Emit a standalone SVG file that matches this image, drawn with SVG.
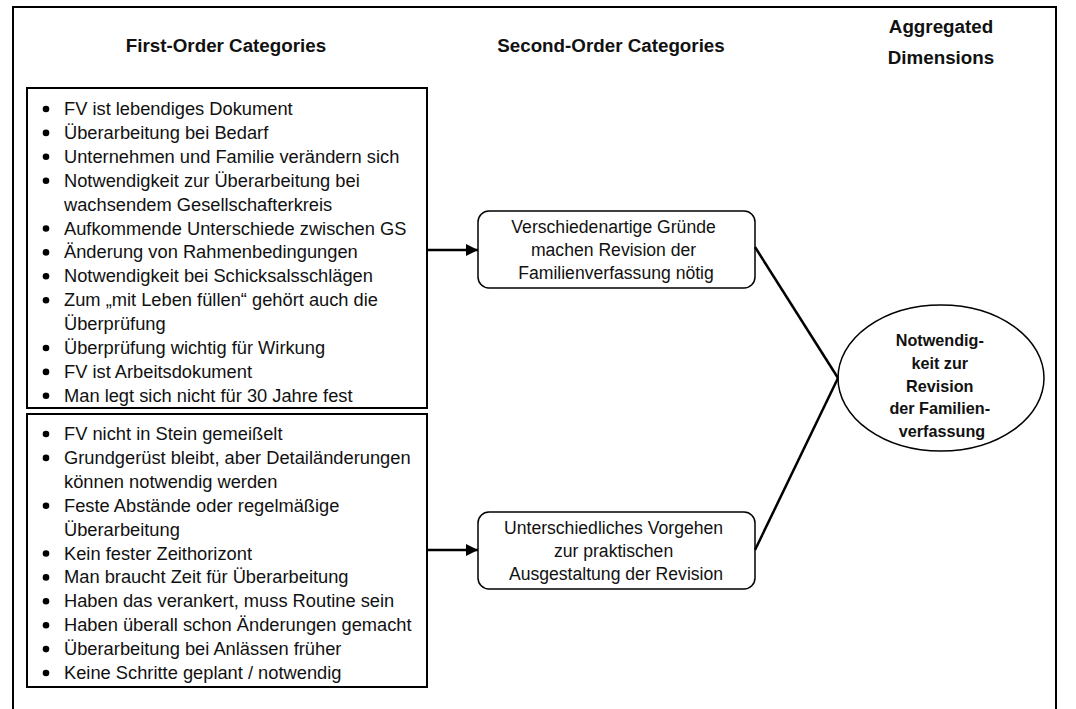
<svg xmlns="http://www.w3.org/2000/svg" width="1076" height="709" viewBox="0 0 1076 709">
  <style>
    .frame { fill: #fff; stroke: #000; stroke-width: 2; }
    .list { fill: #fff; stroke: #000; stroke-width: 2; }
    .cat { fill: #fff; stroke: #000; stroke-width: 1.5; }
    .dim { fill: #fff; stroke: #000; stroke-width: 1.5; }
    .head { font-family: "Liberation Sans", Arial, sans-serif; font-weight: bold; font-size: 18.8px; fill: #111; }
    .item { font-family: "Liberation Sans", Arial, sans-serif; font-size: 18.3px; fill: #111; }
    .cattxt { font-family: "Liberation Sans", Arial, sans-serif; font-size: 17.6px; fill: #111; text-anchor: middle; }
    .dimtxt { font-family: "Liberation Sans", Arial, sans-serif; font-weight: bold; font-size: 16.2px; fill: #111; text-anchor: middle; }
    .edge { fill: none; stroke: #000; stroke-width: 2.5; }
    .dot { fill: #000; }
  </style>
  <defs>
    <marker id="arrow" viewBox="0 0 10 10" refX="10" refY="5" markerWidth="5" markerHeight="5" markerUnits="strokeWidth" orient="auto">
      <path d="M0,0 L10,5 L0,10 z" fill="#000"/>
    </marker>
    <g id="bullet"><circle r="3.3" class="dot"/></g>
  </defs>

  <rect class="frame" x="13" y="7" width="1043" height="720"/>

  <!-- column headings -->
  <g id="headings">
    <text class="head" x="226" y="52" text-anchor="middle">First-Order Categories</text>
    <text class="head" x="611" y="52" text-anchor="middle">Second-Order Categories</text>
    <text class="head" x="941" y="33" text-anchor="middle">Aggregated</text>
    <text class="head" x="941" y="64" text-anchor="middle">Dimensions</text>
  </g>

  <!-- first-order list: reasons -->
  <g id="list-reasons">
    <rect class="list" x="27" y="88" width="400" height="320"/>
    <use href="#bullet" x="46" y="109"/>
    <use href="#bullet" x="46" y="132.9"/>
    <use href="#bullet" x="46" y="156.8"/>
    <use href="#bullet" x="46" y="180.7"/>
    <use href="#bullet" x="46" y="228.5"/>
    <use href="#bullet" x="46" y="252.4"/>
    <use href="#bullet" x="46" y="276.3"/>
    <use href="#bullet" x="46" y="300.2"/>
    <use href="#bullet" x="46" y="348"/>
    <use href="#bullet" x="46" y="371.9"/>
    <use href="#bullet" x="46" y="395.8"/>
    <text class="item">
      <tspan x="64" y="115">FV ist lebendiges Dokument</tspan>
      <tspan x="64" dy="23.9">Überarbeitung bei Bedarf</tspan>
      <tspan x="64" dy="23.9">Unternehmen und Familie verändern sich</tspan>
      <tspan x="64" dy="23.9">Notwendigkeit zur Überarbeitung bei</tspan>
      <tspan x="64" dy="23.9">wachsendem Gesellschafterkreis</tspan>
      <tspan x="64" dy="23.9">Aufkommende Unterschiede zwischen GS</tspan>
      <tspan x="64" dy="23.9">Änderung von Rahmenbedingungen</tspan>
      <tspan x="64" dy="23.9">Notwendigkeit bei Schicksalsschlägen</tspan>
      <tspan x="64" dy="23.9">Zum „mit Leben füllen“ gehört auch die</tspan>
      <tspan x="64" dy="23.9">Überprüfung</tspan>
      <tspan x="64" dy="23.9">Überprüfung wichtig für Wirkung</tspan>
      <tspan x="64" dy="23.9">FV ist Arbeitsdokument</tspan>
      <tspan x="64" dy="23.9">Man legt sich nicht für 30 Jahre fest</tspan>
    </text>
  </g>

  <!-- first-order list: procedure -->
  <g id="list-procedure">
    <rect class="list" x="27" y="414" width="400" height="273"/>
    <use href="#bullet" x="46" y="434"/>
    <use href="#bullet" x="46" y="457.9"/>
    <use href="#bullet" x="46" y="505.7"/>
    <use href="#bullet" x="46" y="553.5"/>
    <use href="#bullet" x="46" y="577.4"/>
    <use href="#bullet" x="46" y="601.3"/>
    <use href="#bullet" x="46" y="625.2"/>
    <use href="#bullet" x="46" y="649.1"/>
    <use href="#bullet" x="46" y="673"/>
    <text class="item">
      <tspan x="64" y="440">FV nicht in Stein gemeißelt</tspan>
      <tspan x="64" dy="23.9">Grundgerüst bleibt, aber Detailänderungen</tspan>
      <tspan x="64" dy="23.9">können notwendig werden</tspan>
      <tspan x="64" dy="23.9">Feste Abstände oder regelmäßige</tspan>
      <tspan x="64" dy="23.9">Überarbeitung</tspan>
      <tspan x="64" dy="23.9">Kein fester Zeithorizont</tspan>
      <tspan x="64" dy="23.9">Man braucht Zeit für Überarbeitung</tspan>
      <tspan x="64" dy="23.9">Haben das verankert, muss Routine sein</tspan>
      <tspan x="64" dy="23.9">Haben überall schon Änderungen gemacht</tspan>
      <tspan x="64" dy="23.9">Überarbeitung bei Anlässen früher</tspan>
      <tspan x="64" dy="23.9">Keine Schritte geplant / notwendig</tspan>
    </text>
  </g>

  <!-- second-order categories -->
  <g id="cat-reasons">
    <rect class="cat" x="478" y="211" width="277" height="77" rx="11"/>
    <text class="cattxt">
      <tspan x="616" y="233">Verschiedenartige Gründe</tspan>
      <tspan x="616" dy="23">machen Revision der</tspan>
      <tspan x="616" dy="23">Familienverfassung nötig</tspan>
    </text>
  </g>
  <g id="cat-procedure">
    <rect class="cat" x="478" y="512" width="277" height="77" rx="11"/>
    <text class="cattxt">
      <tspan x="616" y="534">Unterschiedliches Vorgehen</tspan>
      <tspan x="616" dy="23">zur praktischen</tspan>
      <tspan x="616" dy="23">Ausgestaltung der Revision</tspan>
    </text>
  </g>

  <!-- aggregated dimension -->
  <g id="dim-revision">
    <ellipse class="dim" cx="941" cy="378" rx="103" ry="73"/>
    <text class="dimtxt">
      <tspan x="942" y="346">Notwendig-</tspan>
      <tspan x="942" dy="22.8">keit zur</tspan>
      <tspan x="942" dy="22.8">Revision</tspan>
      <tspan x="942" dy="22.8">der Familien-</tspan>
      <tspan x="942" dy="22.8">verfassung</tspan>
    </text>
  </g>

  <!-- connectors -->
  <g id="connectors">
    <line class="edge" x1="427" y1="250" x2="478" y2="250" marker-end="url(#arrow)"/>
    <line class="edge" x1="427" y1="550" x2="478" y2="550" marker-end="url(#arrow)"/>
    <line class="edge" x1="755" y1="247" x2="838" y2="378"/>
    <line class="edge" x1="755" y1="550" x2="838" y2="378"/>
  </g>
</svg>
